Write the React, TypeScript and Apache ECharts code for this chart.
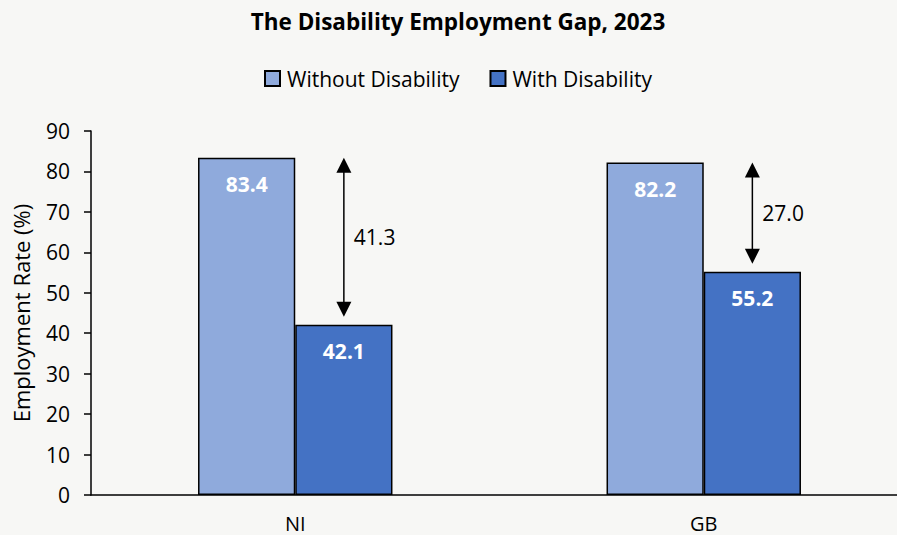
import React, { useEffect, useRef } from "react";
import * as echarts from "echarts";

const categories = ["NI", "GB"];
const withoutDisability = [83.4, 82.2];
const withDisability = [42.1, 55.2];
const gapLabels = ["41.3", "27.0"];
const yTicks = { min: 0, max: 90, interval: 10 };
const FONT = "'Open Sans', sans-serif";

export default function App() {
  const ref = useRef<HTMLDivElement>(null);
  useEffect(() => {
    const chart = echarts.init(ref.current!, null, { renderer: "svg" });
    const gapData = categories.map((_, i) => [i, withoutDisability[i], withDisability[i], gapLabels[i]]);
    chart.setOption({
      animation: false,
      backgroundColor: "#f7f7f5",
      textStyle: { fontFamily: FONT, color: "#000" },
      title: {
        text: "The Disability Employment Gap, 2023",
        left: 453,
        textAlign: "center",
        top: 5,
        textStyle: { fontFamily: FONT, fontWeight: "bold", fontSize: 22.5, color: "#000" },
      },
      legend: {
        data: ["Without Disability", "With Disability"],
        top: 63,
        left: 259,
        icon: "rect",
        itemWidth: 15,
        itemHeight: 15,
        itemGap: 30,
        textStyle: { fontFamily: FONT, fontSize: 21, color: "#000", padding: [0, 0, 0, 2] },
      },
      grid: { left: 91, right: -11, top: 131, bottom: 40, outerBoundsMode: "none" },
      xAxis: {
        type: "category",
        data: categories,
        axisLine: { lineStyle: { color: "#000", width: 1.5 } },
        axisTick: { show: false },
        axisLabel: { fontFamily: FONT, fontSize: 20, color: "#000", margin: 18, lineHeight: 20 },
      },
      yAxis: {
        type: "value",
        min: yTicks.min,
        max: yTicks.max,
        interval: yTicks.interval,
        name: "Employment Rate (%)",
        nameLocation: "middle",
        nameGap: 59,
        nameTextStyle: { fontFamily: FONT, fontSize: 22, color: "#000" },
        axisLine: { show: true, lineStyle: { color: "#000", width: 1.5 } },
        axisTick: { show: true, length: 7, lineStyle: { color: "#000", width: 1.5 } },
        axisLabel: { fontFamily: FONT, fontSize: 21, color: "#000", margin: 21 },
        splitLine: { show: false },
      },
      series: [
        {
          name: "Without Disability",
          type: "bar",
          data: withoutDisability,
          barWidth: "23.8%",
          barGap: "0%",
          itemStyle: { color: "#8faadc", borderColor: "#000", borderWidth: 1.5 },
          label: {
            show: true,
            position: "insideTop",
            distance: 16,
            formatter: (p: any) => p.value.toFixed(1),
            fontFamily: FONT,
            fontWeight: "bold",
            fontSize: 21,
            color: "#fff",
          },
        },
        {
          name: "With Disability",
          type: "bar",
          data: withDisability,
          barWidth: "23.8%",
          barGap: "0%",
          itemStyle: { color: "#4472c4", borderColor: "#000", borderWidth: 1.5 },
          label: {
            show: true,
            position: "insideTop",
            distance: 16,
            formatter: (p: any) => p.value.toFixed(1),
            fontFamily: FONT,
            fontWeight: "bold",
            fontSize: 21,
            color: "#fff",
          },
        },
        {
          name: "gap",
          type: "custom",
          data: gapData,
          z: 10,
          renderItem: (params: any, api: any) => {
            const idx = api.value(0);
            const band = api.size([1, 0])[0];
            const x = api.coord([idx, 0])[0] + band * 0.119;
            const yTop = api.coord([idx, api.value(1)])[1];
            const yBot = api.coord([idx, api.value(2)])[1] - 8;
            const h = 15;
            const w = 7.5;
            return {
              type: "group",
              children: [
                {
                  type: "line",
                  shape: { x1: x, y1: yTop + h - 1, x2: x, y2: yBot - h + 1 },
                  style: { stroke: "#000", lineWidth: 1.5 },
                },
                {
                  type: "polygon",
                  shape: { points: [[x, yTop], [x - w, yTop + h], [x + w, yTop + h]] },
                  style: { fill: "#000" },
                },
                {
                  type: "polygon",
                  shape: { points: [[x, yBot], [x - w, yBot - h], [x + w, yBot - h]] },
                  style: { fill: "#000" },
                },
                {
                  type: "text",
                  style: {
                    text: gapLabels[params.dataIndex],
                    x: x + 10,
                    y: (yTop + yBot) / 2,
                    verticalAlign: "middle",
                    align: "left",
                    fontFamily: FONT,
                    fontSize: 21,
                    fill: "#000",
                  },
                },
              ],
            };
          },
        },
      ],
    });
    return () => chart.dispose();
  }, []);
  return (
    <div
      ref={ref}
      style={{ position: "fixed", left: 0, top: 0, width: 897, height: 535 }}
    />
  );
}
